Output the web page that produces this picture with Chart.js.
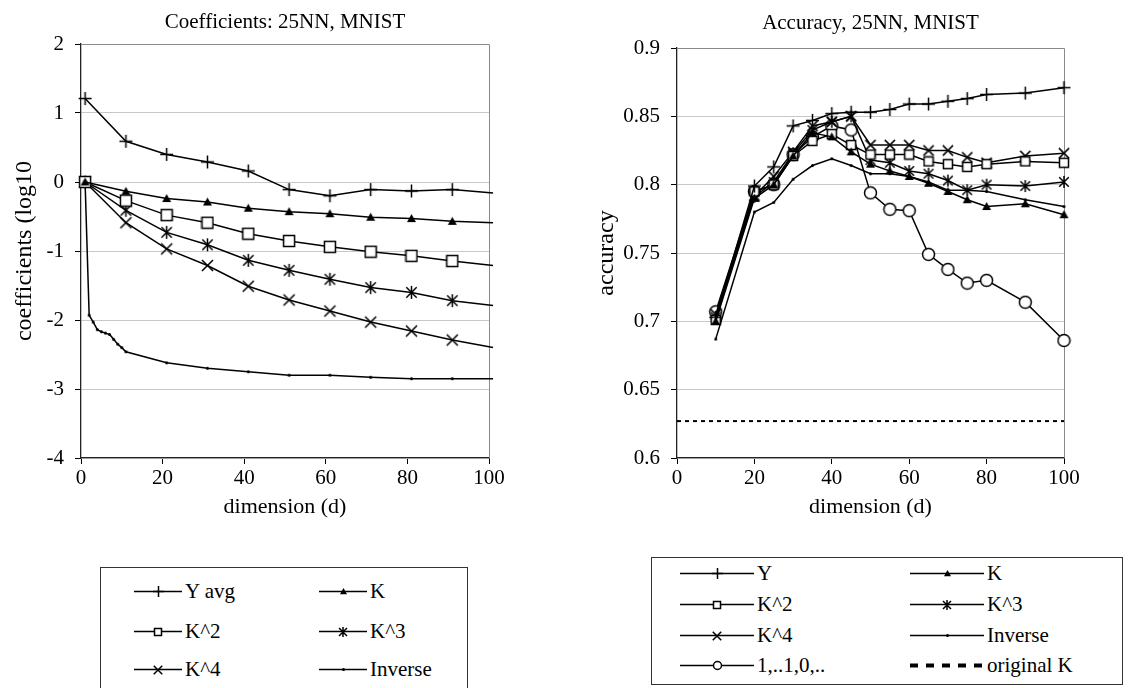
<!DOCTYPE html>
<html lang="en">
<head>
<meta charset="UTF-8">
<title>Coefficients and Accuracy, 25NN, MNIST</title>
<script src="https://cdn.jsdelivr.net/npm/chart.js@4/dist/chart.umd.min.js"></script>
<style>
    html, body {
        margin: 0;
        padding: 0;
        background: #fff;
    }

    body {
        width: 1130px;
        height: 688px;
        position: relative;
        overflow: hidden;
        font-family: "Liberation Serif", "Times New Roman", Tinos, "Nimbus Roman", "DejaVu Serif", "Noto Serif", serif;
    }

    .wrap {
        position: absolute;
        top: 0;
        width: 565px;
        height: 545px;
    }

    .legend {
        position: absolute;
        border: 1px solid #333;
        background: #fff;
    }

    .item {
        position: absolute;
        height: 24px;
        display: flex;
        align-items: center;
        font-size: 21px;
        color: #000;
        white-space: nowrap;
    }

    .item canvas {
        margin-right: 3px;
    }
</style>
</head>
<body>
<div class="wrap" style="left:0"><canvas id="coef"></canvas></div>
<div class="wrap" style="left:565px"><canvas id="acc"></canvas></div>
<div class="legend" id="legCoef" style="left:100px; top:567px; width:366px; height:140px"></div>
<div class="legend" id="legAcc" style="left:651px; top:557px; width:470px; height:126px"></div>
<script>
    // left chart: log10 of the coefficients
    var coefD = [1, 11, 21, 31, 41, 51, 61, 71, 81, 91, 101];
    var coefYavg = [1.21, 0.59, 0.40, 0.29, 0.16, -0.11, -0.20, -0.11, -0.13, -0.11, -0.16];
    var coefK = [0, -0.135, -0.24, -0.29, -0.38, -0.43, -0.46, -0.51, -0.53, -0.57, -0.59];
    var coefK2 = [0, -0.27, -0.48, -0.59, -0.75, -0.855, -0.94, -1.01, -1.07, -1.145, -1.21];
    var coefK3 = [0, -0.41, -0.73, -0.91, -1.135, -1.28, -1.41, -1.53, -1.60, -1.72, -1.79];
    var coefK4 = [0, -0.59, -0.97, -1.21, -1.51, -1.71, -1.87, -2.03, -2.16, -2.29, -2.40];
    var invD = [1, 2, 3, 4, 5, 6, 7, 8, 9, 10, 11, 21, 31, 41, 51, 61, 71, 81, 91, 101];
    var coefInv = [0, -1.93, -2.03, -2.14, -2.17, -2.19, -2.21, -2.28, -2.35, -2.40, -2.46,
        -2.62, -2.70, -2.75, -2.80, -2.80, -2.83, -2.85, -2.85, -2.85];

    // right chart: accuracy
    var accD = [10, 20, 25, 30, 35, 40, 45, 50, 55, 60, 65, 70, 75, 80, 90, 100];
    var accY = [0.703, 0.799, 0.813, 0.843, 0.847, 0.852, 0.853, 0.853, 0.855, 0.859, 0.859, 0.861, 0.863, 0.866, 0.867, 0.871];
    var accK = [0.700, 0.790, 0.800, 0.821, 0.838, 0.835, 0.824, 0.815, 0.810, 0.806, 0.801, 0.795, 0.789, 0.784, 0.786, 0.778];
    var accK2 = [0.701, 0.795, 0.800, 0.821, 0.832, 0.837, 0.829, 0.822, 0.822, 0.822, 0.817, 0.815, 0.813, 0.815, 0.817, 0.816];
    var accK3 = [0.703, 0.791, 0.802, 0.823, 0.840, 0.846, 0.850, 0.818, 0.816, 0.810, 0.808, 0.803, 0.796, 0.800, 0.799, 0.802];
    var accK4 = [0.705, 0.792, 0.806, 0.824, 0.843, 0.846, 0.850, 0.829, 0.829, 0.829, 0.825, 0.825, 0.820, 0.816, 0.821, 0.823];
    var accInv = [0.687, 0.780, 0.787, 0.804, 0.814, 0.819, 0.814, 0.808, 0.808, 0.806, 0.802, 0.796, 0.796, 0.795, 0.789, 0.784];
    var accOneZero = [0.707, 0.795, 0.800, 0.822, 0.835, 0.843, 0.840, 0.794, 0.782, 0.781, 0.749, 0.738, 0.728, 0.730, 0.714, 0.686];
    var originalKD = [0, 100];
    var originalK = [0.627, 0.627];

    var FONT = '"Liberation Serif", "Times New Roman", Tinos, "Nimbus Roman", "DejaVu Serif", "Noto Serif", serif';

    function marker(kind, s) {
        var c = document.createElement('canvas');
        c.width = s;
        c.height = s;
        var g = c.getContext('2d');
        var m = s / 2, r = s / 2 - 1;
        g.strokeStyle = '#000';
        g.fillStyle = '#000';
        g.lineWidth = 1.5;
        g.beginPath();
        if (kind === 'plus') {
            g.moveTo(m, m - r); g.lineTo(m, m + r);
            g.moveTo(m - r, m); g.lineTo(m + r, m);
            g.stroke();
        } else if (kind === 'tri') {
            g.moveTo(m, m - r); g.lineTo(m + r, m + r * 0.75); g.lineTo(m - r, m + r * 0.75);
            g.closePath();
            g.fill();
        } else if (kind === 'square') {
            g.fillStyle = '#fff';
            g.rect(m - r + 0.5, m - r + 0.5, 2 * r - 1, 2 * r - 1);
            g.fill();
            g.stroke();
        } else if (kind === 'aster') {
            var k = r * 0.8;
            g.moveTo(m, m - r); g.lineTo(m, m + r);
            g.moveTo(m - k, m - k); g.lineTo(m + k, m + k);
            g.moveTo(m + k, m - k); g.lineTo(m - k, m + k);
            g.stroke();
        } else if (kind === 'x') {
            var q = r * 0.85;
            g.moveTo(m - q, m - q); g.lineTo(m + q, m + q);
            g.moveTo(m + q, m - q); g.lineTo(m - q, m + q);
            g.stroke();
        } else if (kind === 'dot') {
            g.arc(m, m, r, 0, Math.PI * 2);
            g.fill();
        } else if (kind === 'circle') {
            g.fillStyle = '#fff';
            g.arc(m, m, r - 0.5, 0, Math.PI * 2);
            g.fill();
            g.stroke();
        }
        return c;
    }

    function pts(xs, ys) {
        return xs.map(function (x, i) {
            return {x: x, y: ys[i]};
        });
    }

    function series(label, xs, ys, kind, size, clip) {
        var img = marker(kind, size);
        return {
            label: label,
            data: pts(xs, ys),
            xAxisID: 'x',
            yAxisID: 'y',
            borderColor: '#000',
            borderWidth: 1.5,
            pointStyle: img,
            pointRadius: function (c) {
                return c.raw && c.raw.x > 100 ? 0 : 4;
            },
            pointHoverRadius: 4,
            fill: false,
            tension: 0,
            clip: clip
        };
    }

    var frame = {
        id: 'frame',
        beforeDatasetsDraw: function (chart) {
            var a = chart.chartArea, c = chart.ctx;
            c.save();
            c.strokeStyle = '#8a8a8a';
            c.lineWidth = 1;
            c.beginPath();
            c.moveTo(a.left, Math.round(a.top) + 0.5);
            c.lineTo(Math.round(a.right) + 0.5, Math.round(a.top) + 0.5);
            c.lineTo(Math.round(a.right) + 0.5, a.bottom);
            c.stroke();
            c.restore();
        }
    };

    function makeChart(id, cfg) {
        return new Chart(document.getElementById(id), {
            type: 'line',
            data: {datasets: cfg.datasets},
            options: {
                responsive: true,
                maintainAspectRatio: false,
                animation: false,
                layout: {padding: {left: 0, right: cfg.padRight, top: 0, bottom: 0}},
                plugins: {
                    legend: {display: false},
                    tooltip: {enabled: false}
                },
                scales: {
                    x: {
                        type: 'linear',
                        min: 0,
                        max: 100,
                        afterFit: function (s) {
                            s.height = 87;
                        },
                        ticks: {stepSize: 20, color: '#000', padding: 2, font: {family: FONT, size: 21}},
                        grid: {drawOnChartArea: false, tickColor: '#000', tickLength: 6},
                        border: {color: '#222', width: 1.3},
                        title: {
                            display: true,
                            text: 'dimension (d)',
                            color: '#000',
                            font: {family: FONT, size: 22},
                            padding: {top: 0, bottom: 25}
                        }
                    },
                    y: {
                        min: cfg.yMin,
                        max: cfg.yMax,
                        afterFit: function (s) {
                            s.width = cfg.yWidth;
                        },
                        ticks: {
                            stepSize: cfg.yStep,
                            color: '#000',
                            padding: 11,
                            font: {family: FONT, size: 21},
                            callback: function (v) {
                                return String(+v.toFixed(2));
                            }
                        },
                        grid: {color: '#c8c8c8', tickColor: '#000', tickLength: 6},
                        border: {color: '#222', width: 1.3},
                        title: {
                            display: true,
                            text: cfg.yTitle,
                            color: '#000',
                            font: {family: FONT, size: 24},
                            padding: {top: cfg.yTitlePad, bottom: 0}
                        }
                    },
                    // a bare top axis only carries the chart title, centred over the plot
                    top: {
                        type: 'linear',
                        position: 'top',
                        min: 0,
                        max: 1,
                        afterFit: function (s) {
                            s.height = cfg.topHeight;
                        },
                        ticks: {display: false},
                        grid: {display: false},
                        border: {display: false},
                        title: {
                            display: true,
                            text: cfg.title,
                            color: '#000',
                            font: {family: FONT, size: 21},
                            padding: {top: cfg.titleTop, bottom: 0}
                        }
                    }
                }
            },
            plugins: [frame]
        });
    }

    var clipL = {left: 10, right: 8, top: 10, bottom: 10};
    makeChart('coef', {
        title: 'Coefficients: 25NN, MNIST',
        topHeight: 44, titleTop: 10,
        padRight: 76,
        yMin: -4, yMax: 2, yStep: 1, yWidth: 81,
        yTitle: 'coefficients (log10', yTitlePad: 10,
        datasets: [
            series('Y avg', coefD, coefYavg, 'plus', 15, clipL),
            series('K', coefD, coefK, 'tri', 11, clipL),
            series('K^2', coefD, coefK2, 'square', 14, clipL),
            series('K^3', coefD, coefK3, 'aster', 15, clipL),
            series('K^4', coefD, coefK4, 'x', 15, clipL),
            series('Inverse', invD, coefInv, 'dot', 5, clipL)
        ]
    });

    var clipR = {left: 10, right: 14, top: 10, bottom: 10};
    var origK = {
        label: 'original K',
        data: pts(originalKD, originalK),
        xAxisID: 'x',
        yAxisID: 'y',
        borderColor: '#000',
        borderWidth: 2,
        borderDash: [4, 4],
        pointRadius: 0,
        fill: false
    };
    makeChart('acc', {
        title: 'Accuracy, 25NN, MNIST',
        topHeight: 48, titleTop: 11,
        padRight: 66,
        yMin: 0.6, yMax: 0.9, yStep: 0.05, yWidth: 112,
        yTitle: 'accuracy', yTitlePad: 27,
        datasets: [
            series('Y', accD, accY, 'plus', 15, clipR),
            series('K', accD, accK, 'tri', 11, clipR),
            series('K^2', accD, accK2, 'square', 12, clipR),
            series('K^3', accD, accK3, 'aster', 14, clipR),
            series('K^4', accD, accK4, 'x', 14, clipR),
            series('Inverse', accD, accInv, 'dot', 5, clipR),
            series('1,..1,0,..', accD, accOneZero, 'circle', 15, clipR),
            origK
        ]
    });

    function icon(kind, w, dashed) {
        var c = document.createElement('canvas');
        c.width = w;
        c.height = 20;
        var g = c.getContext('2d');
        g.strokeStyle = '#000';
        if (dashed) {
            g.lineWidth = 4;
            g.setLineDash([8, 8]);
        } else {
            g.lineWidth = 1.5;
        }
        g.beginPath();
        g.moveTo(0, 10.5);
        g.lineTo(w, 10.5);
        g.stroke();
        if (kind) {
            var sz = {plus: 13, tri: 9, square: 10, aster: 12, x: 12, dot: 5, circle: 11}[kind];
            var m = marker(kind, sz);
            g.drawImage(m, Math.round(w / 2 - sz / 2), Math.round(10.5 - sz / 2));
        }
        return c;
    }

    function buildLegend(el, items, colLeft, rowMid, w) {
        items.forEach(function (it, i) {
            var d = document.createElement('div');
            d.className = 'item';
            d.style.left = colLeft[i % 2] + 'px';
            d.style.top = (rowMid[Math.floor(i / 2)] - 12) + 'px';
            d.appendChild(icon(it[1], w, it[2]));
            var t = document.createElement('span');
            t.textContent = it[0];
            d.appendChild(t);
            el.appendChild(d);
        });
    }

    buildLegend(document.getElementById('legCoef'), [
        ['Y avg', 'plus'], ['K', 'tri'],
        ['K^2', 'square'], ['K^3', 'aster'],
        ['K^4', 'x'], ['Inverse', 'dot']
    ], [33, 218], [23, 63, 101], 48);

    buildLegend(document.getElementById('legAcc'), [
        ['Y', 'plus'], ['K', 'tri'],
        ['K^2', 'square'], ['K^3', 'aster'],
        ['K^4', 'x'], ['Inverse', 'dot'],
        ['1,..1,0,..', 'circle'], ['original K', null, true]
    ], [28, 258], [15, 46, 77, 107], 74);
</script>
</body>
</html>
